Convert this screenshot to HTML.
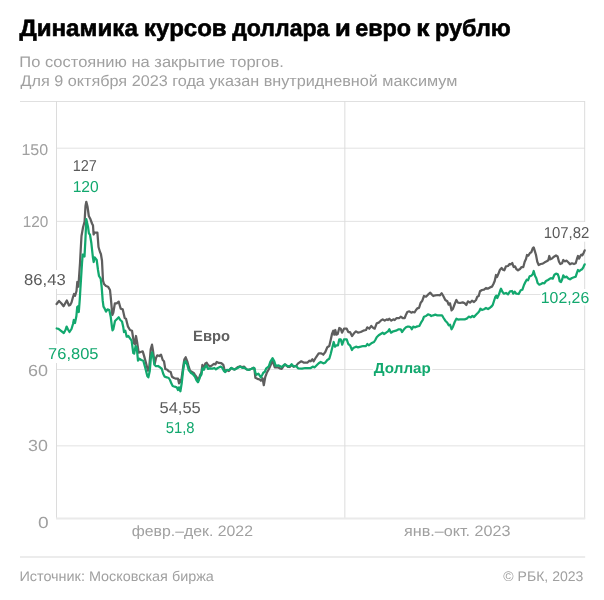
<!DOCTYPE html>
<html lang="ru"><head><meta charset="utf-8"><title>Динамика курсов доллара и евро к рублю</title>
<style>html,body{margin:0;padding:0;background:#fff;}body{width:604px;height:600px;overflow:hidden;font-family:"Liberation Sans",sans-serif;}svg{display:block;will-change:transform;}</style></head>
<body>
<svg width="604" height="600" viewBox="0 0 604 600" text-rendering="geometricPrecision" font-family="'Liberation Sans', sans-serif">
<rect width="604" height="600" fill="#fff"/>
<g stroke-width="1" fill="none">
<path d="M20 101.5H585" stroke="#e0e0e0"/>
<path d="M57 148.2H585 M57 221.35H585 M57 294.5H585 M57 369.5H585 M57 445.85H585" stroke="#e2e2e2"/>
<path d="M56.5 101V519 M344.85 101V519 M584.7 101V519" stroke="#dcdcdc"/>
</g>
<path d="M56 518.5H585.2" stroke="#eaeaea" stroke-width="2" fill="none"/>
<path d="M20 557H585.2" stroke="#e6e6e6" stroke-width="1.4" fill="none"/>
<g fill="#fff">
<rect x="22" y="270" width="46" height="19"/>
<rect x="46" y="344" width="55" height="19"/>
<rect x="541" y="222" width="50" height="19.7"/>
<rect x="540.5" y="289" width="50.5" height="16.5"/>
<rect x="373" y="360" width="59.3" height="16"/>
</g>
<path d="M56.6 304.0 L59.0 301.0 L61.5 303.5 L63.6 306.2 L66.8 300.5 L69.0 305.5 L70.2 305.0 L71.5 302.5 L73.0 297.0 L74.0 294.0 L75.0 295.8 L76.5 291.0 L77.3 282.0 L78.4 286.7 L80.0 263.3 L80.7 250.0 L81.5 236.0 L83.0 227.5 L84.6 221.5 L85.5 206.0 L86.3 201.8 L87.5 206.5 L88.8 216.0 L90.5 219.3 L92.0 223.5 L93.0 225.5 L93.6 234.5 L94.6 232.5 L97.4 232.7 L98.5 247.0 L100.0 252.0 L100.9 254.0 L102.0 260.7 L103.0 280.7 L104.0 284.0 L106.0 286.0 L108.0 286.7 L110.0 290.0 L110.7 296.7 L111.3 303.3 L112.3 315.0 L113.3 312.7 L114.9 303.3 L116.7 303.3 L118.7 301.6 L120.7 308.7 L122.7 309.3 L124.7 318.0 L126.0 318.7 L128.0 326.7 L130.0 330.0 L132.0 330.7 L134.0 343.3 L135.0 344.0 L136.0 336.0 L137.3 343.3 L138.7 352.7 L140.7 352.0 L142.7 351.3 L144.0 355.6 L146.0 363.0 L148.0 370.7 L149.3 366.7 L150.7 349.3 L152.0 344.7 L153.0 350.6 L154.7 364.0 L156.0 358.0 L157.3 355.3 L159.3 356.0 L161.0 354.7 L162.7 360.0 L164.0 361.3 L165.3 369.0 L167.3 369.7 L168.7 371.3 L170.7 372.0 L172.0 376.7 L174.0 378.0 L176.0 378.7 L178.0 378.7 L179.0 383.3 L180.0 380.0 L181.0 382.0 L182.0 375.3 L183.3 366.0 L184.4 359.3 L185.7 357.3 L187.3 361.3 L188.7 366.7 L190.0 370.7 L192.0 372.0 L194.0 373.3 L195.0 374.8 L196.5 376.8 L198.0 380.7 L199.2 378.0 L200.0 375.3 L201.4 372.5 L202.4 364.9 L203.4 366.8 L204.4 366.3 L205.4 363.4 L206.7 362.7 L207.9 364.9 L209.9 366.4 L211.9 365.4 L213.9 363.9 L215.4 364.4 L216.8 361.9 L218.8 362.9 L221.3 363.1 L223.3 364.9 L224.3 368.8 L225.3 371.5 L226.8 370.2 L228.8 371.0 L231.2 368.0 L233.2 369.1 L234.7 369.5 L237.7 367.0 L240.2 366.4 L242.2 367.2 L244.2 366.6 L245.6 368.3 L247.0 369.5 L249.1 369.8 L251.6 368.8 L253.6 367.8 L254.4 368.8 L255.4 377.8 L257.4 378.8 L259.4 379.3 L260.9 380.7 L262.6 378.3 L263.8 385.2 L265.3 376.8 L266.8 372.8 L268.8 369.3 L270.8 364.9 L272.5 360.5 L274.8 367.3 L277.7 367.3 L279.7 368.3 L281.7 368.8 L283.7 365.9 L285.2 364.4 L287.7 366.8 L289.7 367.0 L291.6 364.9 L293.6 366.8 L296.1 365.9 L298.1 363.4 L301.3 361.3 L304.0 362.7 L307.3 362.7 L309.3 360.7 L310.7 361.3 L312.4 359.3 L313.7 361.3 L316.0 357.3 L318.7 353.3 L321.3 353.3 L323.3 354.7 L325.3 352.0 L327.3 347.3 L329.3 346.0 L330.7 340.0 L332.0 334.0 L333.3 330.7 L334.3 334.7 L335.3 330.0 L336.4 334.7 L337.7 334.0 L339.3 328.0 L340.7 328.7 L342.0 332.7 L344.0 328.7 L346.7 328.7 L348.3 332.0 L350.0 332.0 L352.0 336.0 L354.0 333.3 L356.0 331.3 L358.0 332.7 L360.7 332.0 L363.3 330.7 L366.0 330.0 L367.3 327.3 L369.3 328.7 L371.3 326.0 L373.3 328.0 L374.7 328.7 L376.7 323.3 L378.7 322.7 L380.7 320.7 L382.7 319.3 L384.7 320.7 L386.7 319.3 L388.0 320.0 L389.3 318.7 L391.3 320.7 L393.3 319.3 L394.7 320.0 L396.7 318.0 L399.3 318.0 L400.7 316.7 L402.7 318.0 L404.7 318.0 L406.0 314.7 L407.3 312.0 L409.3 311.3 L411.3 312.7 L412.7 312.0 L414.7 312.3 L416.0 310.0 L417.7 308.0 L419.0 308.0 L420.7 302.7 L422.3 300.7 L424.0 296.0 L426.0 296.7 L428.0 294.7 L430.3 292.7 L432.0 294.7 L433.3 296.0 L435.3 295.3 L438.0 295.0 L440.0 295.3 L441.7 293.3 L443.3 296.0 L445.3 300.0 L447.3 301.3 L448.7 304.7 L450.0 303.3 L451.6 310.4 L453.0 308.7 L454.7 304.0 L456.4 300.0 L458.0 302.7 L460.0 303.0 L462.7 302.4 L464.7 303.3 L466.3 305.0 L468.0 301.3 L470.0 302.7 L472.0 300.7 L474.0 302.0 L476.0 300.0 L477.3 296.7 L478.7 296.0 L480.0 291.3 L482.0 290.0 L484.0 289.7 L486.0 288.0 L487.7 288.7 L490.0 287.4 L492.0 286.6 L493.3 284.3 L494.7 281.0 L496.0 275.0 L497.0 277.0 L498.7 273.0 L500.0 269.7 L501.6 268.0 L503.0 269.7 L504.3 270.3 L506.0 266.3 L508.0 266.0 L509.6 264.0 L511.0 264.3 L512.3 263.0 L513.6 267.0 L515.0 266.3 L516.3 269.0 L518.0 270.3 L520.0 269.0 L521.6 267.0 L523.3 267.0 L524.7 261.7 L526.0 259.0 L527.0 255.0 L528.3 255.7 L530.0 253.0 L531.3 252.3 L532.7 248.3 L533.7 247.4 L535.0 251.7 L536.0 255.0 L537.3 261.7 L538.7 265.0 L540.7 264.0 L542.7 263.7 L544.7 262.3 L546.7 261.3 L548.3 260.3 L549.3 256.0 L550.4 259.3 L552.0 258.5 L554.0 256.7 L556.0 255.5 L557.6 256.5 L559.0 261.8 L560.3 264.0 L562.0 263.3 L563.3 260.0 L564.7 261.3 L566.7 260.7 L568.7 262.7 L570.0 264.3 L572.0 263.3 L574.0 264.0 L575.7 263.3 L577.0 258.7 L578.0 256.0 L579.0 258.7 L580.0 256.7 L581.3 254.7 L582.4 255.3 L583.7 252.7 L584.7 250.4" fill="none" stroke="#5e5e5e" stroke-width="2.25" stroke-linejoin="round" stroke-linecap="round"/>
<path d="M56.7 328.5 L58.5 328.8 L61.0 330.8 L63.8 333.0 L65.5 330.0 L66.6 326.6 L68.0 329.5 L69.5 332.0 L71.5 329.0 L73.0 324.0 L73.8 320.0 L75.0 323.0 L76.4 316.0 L77.2 307.0 L78.0 306.3 L78.8 312.0 L79.8 299.0 L80.4 288.7 L82.0 263.3 L82.7 254.7 L84.0 254.3 L84.5 256.5 L85.4 240.0 L86.3 219.2 L88.0 226.7 L88.9 233.3 L90.0 234.7 L91.3 242.7 L92.3 252.0 L93.0 258.0 L93.7 262.0 L94.7 257.3 L96.7 260.0 L98.0 270.0 L99.0 276.0 L100.7 278.7 L101.7 287.3 L102.7 300.7 L103.5 306.7 L104.7 308.7 L106.0 311.6 L107.5 309.3 L109.3 310.0 L110.7 316.7 L112.0 327.3 L112.5 330.3 L113.3 329.3 L115.0 321.0 L117.3 318.7 L118.7 317.3 L120.3 320.0 L122.0 321.5 L123.3 327.3 L124.0 332.0 L125.3 330.7 L126.7 336.7 L128.3 336.0 L130.0 338.4 L131.6 340.6 L133.3 353.0 L134.2 353.6 L135.6 346.0 L136.7 347.3 L138.0 360.7 L139.3 358.7 L141.3 360.0 L143.3 360.7 L145.3 368.0 L147.3 376.0 L148.4 377.3 L149.7 371.3 L151.0 356.7 L152.0 352.4 L153.2 356.7 L154.4 364.7 L156.0 366.2 L158.0 366.0 L160.0 367.3 L161.7 368.7 L163.3 374.0 L164.7 376.7 L166.7 377.3 L168.7 378.0 L170.0 380.0 L171.3 383.3 L172.7 386.0 L174.7 386.7 L176.7 387.3 L178.0 390.0 L179.0 387.3 L180.4 391.3 L181.7 383.3 L183.0 371.3 L184.4 362.0 L185.7 361.3 L187.3 364.7 L188.7 370.0 L190.7 372.7 L192.7 374.0 L195.0 376.8 L196.5 380.3 L198.0 382.2 L199.0 379.8 L200.0 376.8 L201.5 374.3 L202.4 368.3 L203.9 369.8 L204.9 367.3 L206.4 365.4 L207.9 368.8 L209.9 368.3 L212.4 368.6 L214.4 368.0 L215.9 369.3 L217.8 368.0 L220.8 366.6 L222.3 367.8 L223.8 370.8 L225.3 372.0 L226.8 369.8 L229.3 370.0 L231.2 368.0 L233.2 369.1 L234.7 369.5 L237.2 368.3 L240.2 366.6 L242.2 367.8 L244.2 367.6 L246.6 369.3 L249.1 369.8 L251.6 368.8 L253.6 367.8 L254.4 368.3 L255.4 372.8 L256.4 374.8 L258.4 373.6 L260.9 377.3 L262.3 374.8 L263.3 372.8 L264.8 371.8 L266.3 368.3 L268.8 366.4 L270.3 361.9 L272.6 358.2 L274.3 361.4 L275.7 365.9 L278.7 365.4 L281.7 367.0 L284.7 364.4 L288.2 366.4 L290.1 365.9 L291.6 364.2 L293.6 366.4 L296.1 366.0 L298.1 368.3 L302.0 368.7 L305.3 368.0 L308.0 368.0 L310.7 368.0 L312.7 366.7 L314.7 367.3 L316.7 365.3 L318.7 363.3 L320.7 362.0 L323.3 363.3 L325.3 362.7 L327.3 360.0 L329.3 358.7 L330.7 354.0 L332.0 348.7 L333.7 342.0 L335.0 346.7 L336.4 345.3 L338.0 345.3 L339.3 339.3 L340.7 339.3 L342.2 344.7 L344.0 339.3 L346.7 339.3 L348.3 344.0 L350.0 345.3 L352.0 350.0 L353.3 348.0 L356.0 346.7 L358.0 347.3 L360.7 346.7 L363.3 346.0 L366.0 346.0 L367.3 344.0 L368.7 345.3 L371.3 343.3 L374.0 342.0 L375.3 340.0 L376.7 337.3 L378.7 335.3 L380.7 334.0 L382.7 332.7 L384.0 334.0 L386.0 332.7 L388.0 331.3 L389.3 329.3 L391.0 332.7 L393.3 331.3 L396.0 330.7 L398.7 329.3 L400.7 329.3 L402.0 332.0 L404.0 329.3 L406.0 327.3 L407.3 326.7 L409.3 326.7 L410.7 327.3 L411.8 329.3 L413.2 326.7 L415.3 327.3 L417.3 326.4 L419.3 326.0 L421.0 322.7 L422.7 320.0 L424.0 316.7 L426.0 316.0 L428.0 314.3 L430.0 315.0 L431.3 316.0 L433.3 315.3 L435.3 314.7 L437.3 315.3 L439.3 315.3 L442.0 315.3 L443.6 318.0 L445.3 320.7 L447.3 322.7 L448.7 325.3 L450.0 324.7 L451.6 329.3 L453.0 326.7 L454.7 322.0 L456.4 318.7 L458.0 319.6 L460.0 319.3 L462.7 319.3 L464.7 319.3 L466.7 318.7 L468.7 316.7 L470.7 317.3 L472.4 316.0 L474.0 317.0 L476.0 314.7 L478.0 312.7 L479.3 311.3 L480.4 308.7 L482.0 310.0 L484.0 309.3 L486.0 308.0 L488.0 309.0 L490.0 307.7 L491.5 306.5 L492.7 305.0 L494.0 301.0 L495.3 297.0 L496.3 295.7 L497.3 298.0 L499.0 294.3 L500.3 290.3 L501.0 288.7 L502.4 291.7 L504.0 293.7 L506.0 293.0 L508.0 294.3 L510.0 291.4 L512.0 291.0 L513.3 293.7 L514.7 291.7 L516.3 293.7 L518.7 294.0 L520.7 290.3 L522.4 289.7 L524.0 285.0 L525.3 282.3 L526.7 279.7 L528.0 280.3 L529.6 276.3 L531.3 275.7 L532.7 274.3 L533.7 271.0 L535.0 275.7 L536.3 278.3 L537.6 283.0 L539.3 284.7 L541.0 284.0 L542.7 283.0 L544.3 283.4 L546.0 281.0 L548.0 280.0 L550.0 278.6 L551.3 278.2 L552.7 278.7 L554.4 274.7 L556.0 273.7 L557.6 274.0 L558.7 276.7 L559.7 281.3 L561.0 282.0 L562.4 278.7 L563.3 275.3 L564.7 277.3 L566.7 276.7 L568.3 278.4 L570.0 279.3 L572.0 278.0 L574.0 277.3 L575.7 276.7 L577.0 272.7 L578.0 270.0 L579.3 271.3 L580.7 270.0 L582.0 269.3 L583.3 267.3 L584.7 264.3" fill="none" stroke="#12a86e" stroke-width="2.25" stroke-linejoin="round" stroke-linecap="round"/>
<text x="19.3" y="67" font-size="15.4" fill="#a0a0a0" textLength="264.46" lengthAdjust="spacingAndGlyphs">По состоянию на закрытие торгов.</text>
<text x="20.54" y="86.2" font-size="15.4" fill="#a0a0a0" textLength="436.8" lengthAdjust="spacingAndGlyphs">Для 9 октября 2023 года указан внутридневной максимум</text>
<text x="21.42" y="155.1" font-size="15.7" fill="#a0a0a0" textLength="26.73" lengthAdjust="spacingAndGlyphs">150</text>
<text x="22.64" y="227.3" font-size="15.7" fill="#a0a0a0" textLength="25.65" lengthAdjust="spacingAndGlyphs">120</text>
<text x="27.98" y="376.0" font-size="16" fill="#a0a0a0" textLength="19.98" lengthAdjust="spacingAndGlyphs">60</text>
<text x="28.04" y="451.0" font-size="16" fill="#a0a0a0" textLength="19.83" lengthAdjust="spacingAndGlyphs">30</text>
<text x="38.05" y="527.7" font-size="16" fill="#a0a0a0" textLength="10.65" lengthAdjust="spacingAndGlyphs">0</text>
<text x="72.74" y="170.8" font-size="15.8" fill="#5a5a5a" textLength="24.14" lengthAdjust="spacingAndGlyphs">127</text>
<text x="72.7" y="191.8" font-size="15.8" fill="#12a86e" textLength="26.05" lengthAdjust="spacingAndGlyphs">120</text>
<text x="24.1" y="285" font-size="15.8" fill="#5a5a5a" textLength="41.66" lengthAdjust="spacingAndGlyphs">86,43</text>
<text x="48.12" y="358.5" font-size="15.8" fill="#12a86e" textLength="50.41" lengthAdjust="spacingAndGlyphs">76,805</text>
<text x="159.57" y="413.0" font-size="15.8" fill="#5a5a5a" textLength="41.15" lengthAdjust="spacingAndGlyphs">54,55</text>
<text x="165.77" y="433.4" font-size="15.8" fill="#12a86e" textLength="28.82" lengthAdjust="spacingAndGlyphs">51,8</text>
<text x="543.68" y="238.3" font-size="15.8" fill="#5a5a5a" textLength="45.74" lengthAdjust="spacingAndGlyphs">107,82</text>
<text x="540.76" y="302.7" font-size="15.8" fill="#12a86e" textLength="48.51" lengthAdjust="spacingAndGlyphs">102,26</text>
<text x="193.05" y="341" font-size="15" fill="#606060" font-weight="bold" textLength="36.9" lengthAdjust="spacingAndGlyphs">Евро</text>
<text x="373.83" y="372.7" font-size="14.5" fill="#12a86e" font-weight="bold" textLength="56.93" lengthAdjust="spacingAndGlyphs">Доллар</text>
<text x="131.73" y="536.0" font-size="15" fill="#a0a0a0" textLength="121.23" lengthAdjust="spacingAndGlyphs">февр.–дек. 2022</text>
<text x="403.93" y="536.0" font-size="15" fill="#a0a0a0" textLength="106.71" lengthAdjust="spacingAndGlyphs">янв.–окт. 2023</text>
<text x="19.42" y="580.7" font-size="14" fill="#a0a0a0" textLength="194.47" lengthAdjust="spacingAndGlyphs">Источник: Московская биржа</text>
<text x="503.37" y="580.6" font-size="14" fill="#a0a0a0" textLength="79.99" lengthAdjust="spacingAndGlyphs">© РБК, 2023</text>
<text y="36.2" font-size="23.5" font-weight="bold" fill="#000" stroke="#000" stroke-width="0.6"><tspan x="19.43" textLength="118.44" lengthAdjust="spacingAndGlyphs">Динамика</tspan> <tspan x="144.1" textLength="82.47" lengthAdjust="spacingAndGlyphs">курсов</tspan> <tspan x="232.18" textLength="97.23" lengthAdjust="spacingAndGlyphs">доллара</tspan> <tspan x="335.13" textLength="15.79" lengthAdjust="spacingAndGlyphs">и</tspan> <tspan x="355.27" textLength="55.88" lengthAdjust="spacingAndGlyphs">евро</tspan> <tspan x="416.23" textLength="13.15" lengthAdjust="spacingAndGlyphs">к</tspan> <tspan x="435.07" textLength="75.76" lengthAdjust="spacingAndGlyphs">рублю</tspan></text>
</svg>
</body></html>
